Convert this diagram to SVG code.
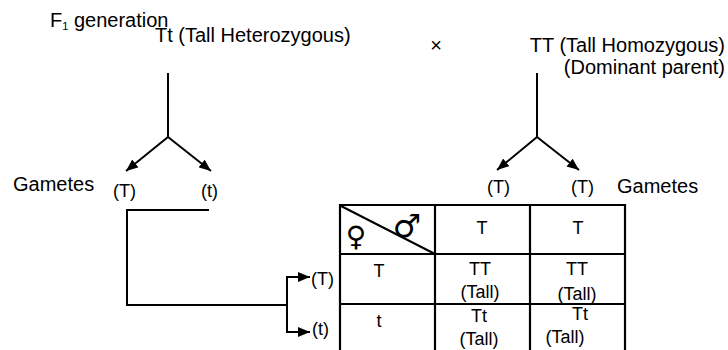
<svg xmlns="http://www.w3.org/2000/svg" width="728" height="350" viewBox="0 0 728 350">
<defs>
<style>
text{font-family:"Liberation Sans",Arial,sans-serif;fill:#000}
.t20{font-size:20px}
.t18{font-size:18px}
.c{text-anchor:middle}
.sym{font-family:"DejaVu Sans",sans-serif;text-anchor:middle}
.ln{stroke:#000;stroke-width:2;fill:none}
.grid{stroke:#000;stroke-width:2.2;fill:none}
</style>
<marker id="ah" markerUnits="userSpaceOnUse" markerWidth="12" markerHeight="10" refX="12" refY="5" orient="auto">
<path d="M0,0 L12,5 L0,10 z" fill="#000"/>
</marker>
</defs>
<rect width="728" height="350" fill="#fff"/>

<g id="f1-label"><text class="t20" x="50" y="27">F<tspan font-size="11" dy="3">1</tspan><tspan dy="-3"> generation</tspan></text></g>
<g id="parent-tt-het"><text class="t20" x="155" y="42">Tt (Tall Heterozygous)</text></g>
<g id="cross"><text class="t20 c" x="436" y="52">×</text></g>
<g id="parent-tt-hom">
<text class="t20" x="725" y="52" text-anchor="end">TT (Tall Homozygous)</text>
<text class="t20" x="725" y="74" text-anchor="end">(Dominant parent)</text>
</g>

<g id="gametes-left">
<text class="t20" x="13" y="191">Gametes</text>
<text class="t18" x="113" y="197">(T)</text>
<text class="t18" x="201" y="197">(t)</text>
</g>
<g id="gametes-right">
<text class="t18" x="487" y="193">(T)</text>
<text class="t18" x="571" y="193">(T)</text>
<text class="t20" x="617" y="193">Gametes</text>
</g>

<g id="row-labels">
<text class="t18" x="311" y="285">(T)</text>
<text class="t18" x="312" y="335">(t)</text>
</g>

<g id="connectors">
<line class="ln" x1="168" y1="73" x2="168" y2="137"/>
<line class="ln" x1="168" y1="137" x2="126" y2="171" marker-end="url(#ah)"/>
<line class="ln" x1="168" y1="137" x2="211" y2="171" marker-end="url(#ah)"/>
<line class="ln" x1="537" y1="73" x2="537" y2="137"/>
<line class="ln" x1="537" y1="137" x2="497" y2="170" marker-end="url(#ah)"/>
<line class="ln" x1="537" y1="137" x2="579" y2="170" marker-end="url(#ah)"/>
<polyline class="ln" points="209,210 127,210 127,305 287,305"/>
<line class="ln" x1="287" y1="277" x2="287" y2="332"/>
<line class="ln" x1="286" y1="277" x2="310" y2="277" marker-end="url(#ah)"/>
<line class="ln" x1="286" y1="332" x2="310" y2="332" marker-end="url(#ah)"/>
</g>

<g id="punnett-square">
<line class="grid" x1="340" y1="205" x2="626" y2="205"/>
<line class="grid" x1="340" y1="254" x2="626" y2="254"/>
<line class="grid" x1="340" y1="304" x2="626" y2="304"/>
<line class="grid" x1="340" y1="204" x2="340" y2="352"/>
<line class="grid" x1="435" y1="204" x2="435" y2="352"/>
<line class="grid" x1="530" y1="204" x2="530" y2="352"/>
<line class="grid" x1="625" y1="204" x2="625" y2="352"/>
<line class="ln" x1="341" y1="206" x2="435" y2="254"/>
<text class="sym" x="356" y="246" font-size="28">♀</text>
<text class="sym" x="407" y="237" font-size="32">♂</text>
<text class="t18 c" x="482" y="234">T</text>
<text class="t18 c" x="578" y="234">T</text>
<text class="t18 c" x="379" y="277">T</text>
<text class="t18 c" x="480" y="275">TT</text>
<text class="t18 c" x="480" y="298">(Tall)</text>
<text class="t18 c" x="577" y="275">TT</text>
<text class="t18 c" x="577" y="300">(Tall)</text>
<text class="t18 c" x="379" y="327">t</text>
<text class="t18 c" x="479" y="322">Tt</text>
<text class="t18 c" x="479" y="345">(Tall)</text>
<text class="t18 c" x="580" y="320">Tt</text>
<text class="t18 c" x="565" y="343">(Tall)</text>
</g>
</svg>
